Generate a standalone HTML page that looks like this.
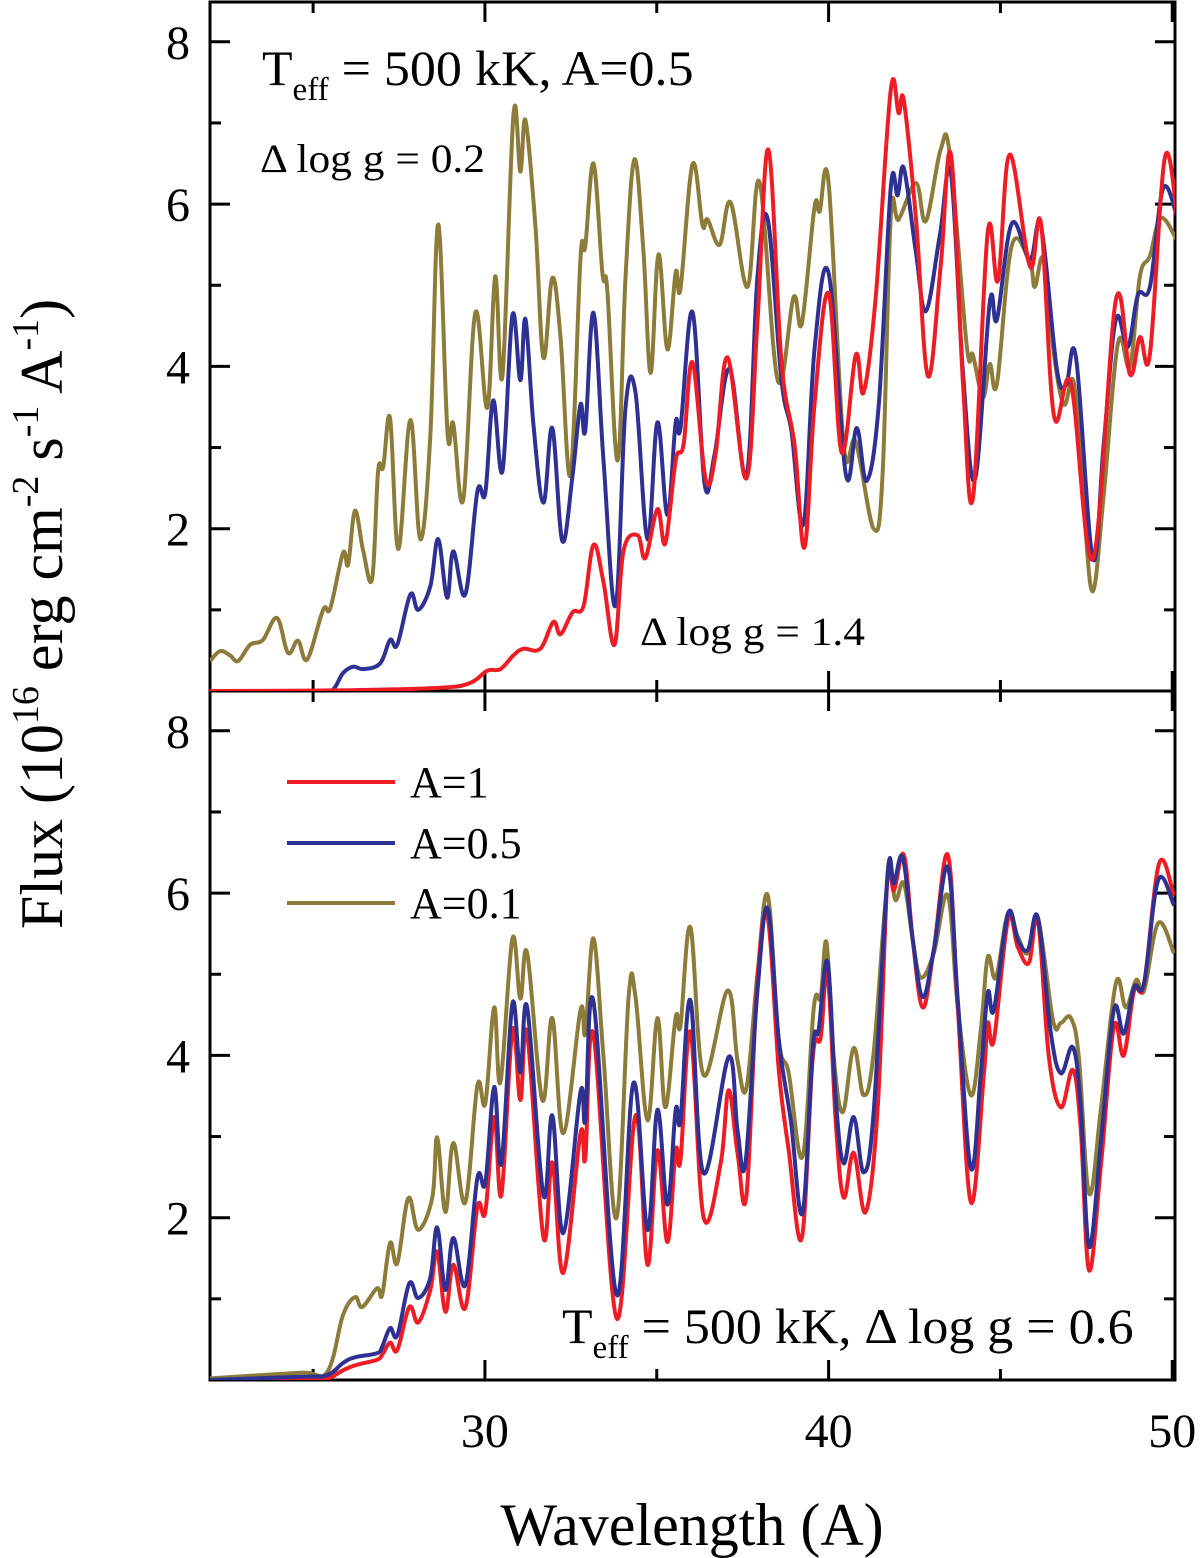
<!DOCTYPE html>
<html><head><meta charset="utf-8"><style>
html,body{margin:0;padding:0;background:#fff;}
svg{display:block;font-family:"Liberation Serif",serif;}
</style></head><body>
<svg id="chart" width="1200" height="1558" viewBox="0 0 1200 1558" xmlns="http://www.w3.org/2000/svg">
<defs>
<clipPath id="clipTop"><rect x="210" y="2" width="965" height="689"/></clipPath>
<clipPath id="clipBot"><rect x="210" y="691" width="965" height="689"/></clipPath>
</defs>
<g id="axes"></g>
<g id="series"></g>
<text x="262" y="85" font-size="50">T<tspan font-size="33" dy="15">eff</tspan><tspan dy="-15" textLength="365" lengthAdjust="spacingAndGlyphs"> = 500 kK, A=0.5</tspan></text>
<text x="260" y="172" font-size="40" textLength="225" lengthAdjust="spacingAndGlyphs">Δ log g = 0.2</text>
<text x="640" y="645" font-size="40" textLength="225" lengthAdjust="spacingAndGlyphs">Δ log g = 1.4</text>
<text x="562" y="1343" font-size="50">T<tspan font-size="33" dy="15">eff</tspan><tspan dy="-15" textLength="505" lengthAdjust="spacingAndGlyphs"> = 500 kK, Δ log g = 0.6</tspan></text>
<g>
<line x1="287" y1="782" x2="395" y2="782" stroke="#ee1c25" stroke-width="4"/>
<text x="410" y="797" font-size="44">A=1</text>
<line x1="287" y1="843" x2="395" y2="843" stroke="#2e3192" stroke-width="4"/>
<text x="410" y="858" font-size="44">A=0.5</text>
<line x1="287" y1="903" x2="395" y2="903" stroke="#8d7b3a" stroke-width="4"/>
<text x="410" y="918" font-size="44">A=0.1</text>
</g>
<text x="692" y="1545" font-size="60" text-anchor="middle">Wavelength (A)</text>
<text transform="translate(62,614) rotate(-90)" font-size="60" text-anchor="middle">Flux (10<tspan font-size="38" dy="-24">16</tspan><tspan dy="24"> erg cm</tspan><tspan font-size="38" dy="-24">-2</tspan><tspan dy="24"> s</tspan><tspan font-size="38" dy="-24">-1</tspan><tspan dy="24"> A</tspan><tspan font-size="38" dy="-24">-1</tspan><tspan dy="24">)</tspan></text>
</svg>
<script>
// ---- data ----
const xTicks=[30,40,50];
const xMinorTicks=[25,35,45];
const yTicks=[2,4,6,8];
const yMinorTicks=[1,3,5,7];
// top panel (A=0.5, different dlogg) - red: dlogg=1.4 ... gold: dlogg=0.2
const topRedWl=[22,26.08,28.70,29.57,30.07,30.45,30.83,31.12,31.61,31.99,32.20,32.55,32.87,33.16,33.45,33.77,34.03,34.44,34.67,35.02,35.25,35.55,35.78,36.04,36.42,36.71,37.06,37.61,37.93,38.25,38.63,39.01,39.30,39.59,40.00,40.38,40.79,41.02,41.37,41.81,42.04,42.19,42.54,42.89,43.26,43.56,43.91,44.20,44.63,44.93,45.27,45.86,46.18,46.56,47.05,47.69,48.36,48.77,49.06,49.35,49.79,50.17];
const topRedFlux=[0,0.01,0.04,0.10,0.25,0.27,0.44,0.52,0.52,0.85,0.70,0.97,1.05,1.80,1.34,0.57,1.72,1.92,1.64,2.24,1.82,2.84,3.04,4.05,2.61,2.91,4.11,2.62,4.56,6.67,4.05,3.03,1.77,3.53,4.90,2.94,4.14,3.68,4.85,7.41,7.12,7.27,5.83,3.88,5.23,6.61,3.79,2.38,5.65,5.06,6.61,5.23,5.76,3.39,3.79,1.63,4.82,3.90,4.36,4.15,6.58,5.74];
const topBlueWl=[22,25.20,25.58,25.87,26.17,26.46,26.95,27.24,27.45,27.83,28.06,28.41,28.64,28.90,29.08,29.43,29.78,30.01,30.24,30.51,30.80,31.03,31.18,31.41,31.70,31.96,32.25,32.55,32.78,32.92,33.16,33.45,33.80,34.09,34.38,34.73,35.02,35.31,35.55,35.69,36.04,36.39,36.68,37.12,37.61,37.93,38.23,38.63,38.92,39.27,39.59,40.00,40.50,40.82,41.11,41.46,41.81,42.01,42.19,42.54,42.83,43.24,43.56,43.91,44.26,44.69,44.90,45.33,45.86,46.18,46.64,46.91,47.20,47.69,48.01,48.36,48.71,49.00,49.35,49.73,50.14];
const topBlueFlux=[0,0,0.02,0.22,0.30,0.27,0.34,0.63,0.57,1.19,1.00,1.29,1.87,1.15,1.72,1.19,2.46,2.44,3.58,2.71,4.63,3.83,4.58,3.29,2.32,3.24,1.85,2.66,3.53,3.21,4.66,2.84,1.05,3.49,3.68,1.87,3.31,2.17,3.31,3.24,4.67,2.56,2.91,3.97,2.65,5.11,5.81,3.83,3.20,2.06,4.21,5.15,2.67,3.24,2.59,3.53,6.21,6.11,6.44,5.41,4.68,5.62,6.38,3.92,2.61,4.79,4.58,5.76,5.32,5.73,3.97,3.77,4.11,1.63,3.07,4.58,4.24,4.88,4.98,6.19,5.85];
const topGoldWl=[22.00,22.29,22.58,22.82,23.17,23.54,23.95,24.27,24.56,24.83,25.29,25.50,25.87,26.02,26.22,26.46,26.72,26.89,27.04,27.24,27.48,27.83,28.12,28.41,28.64,28.91,29.08,29.37,29.72,30.07,30.30,30.51,30.83,31.03,31.18,31.47,31.70,31.96,32.20,32.49,32.78,32.92,33.16,33.42,33.56,33.86,34.09,34.35,34.61,34.82,35.05,35.31,35.55,35.69,36.04,36.33,36.48,36.83,37.15,37.64,37.99,38.52,38.98,39.22,39.59,39.74,40.00,40.44,40.79,41.31,41.57,41.81,42.04,42.54,42.83,43.26,43.53,44.02,44.20,44.49,44.69,44.90,45.33,45.86,46.00,46.26,46.56,46.85,47.14,47.43,47.69,48.01,48.42,48.77,49.06,49.35,49.67,50.14];
const topGoldFlux=[0.37,0.49,0.44,0.37,0.57,0.63,0.90,0.47,0.62,0.39,1.00,1.02,1.70,1.56,2.22,1.72,1.39,2.71,2.76,3.36,1.75,3.34,1.87,3.14,5.75,3.19,3.29,2.36,4.66,3.49,5.11,3.89,7.11,6.40,7.03,5.73,4.11,5.09,4.36,2.66,5.33,5.48,6.50,5.14,4.94,2.84,5.09,6.55,5.43,3.92,5.38,4.21,5.16,4.96,6.49,5.74,5.81,5.50,6.02,4.98,6.27,3.83,4.85,4.53,5.96,5.91,6.26,3.03,3.07,2.00,2.65,5.85,5.81,6.26,5.79,6.67,6.61,4.26,4.14,3.62,4.03,3.79,5.49,5.27,4.98,5.32,4.14,3.53,3.79,2.23,1.23,2.44,4.29,4.00,5.11,5.36,5.83,5.55];
// bottom panel (dlogg=0.6): A=1 red, A=0.5 blue, A=0.1 gold
const botRedWl=[22,24.62,25.41,25.87,26.22,26.86,27.01,27.24,27.45,27.80,28.06,28.41,28.61,28.85,29.08,29.43,29.78,30.01,30.27,30.48,30.80,31.03,31.23,31.70,31.96,32.28,32.78,32.92,33.16,33.83,34.38,34.73,35.02,35.31,35.55,35.69,35.98,36.36,36.86,37.09,37.35,37.61,37.93,38.23,38.55,38.84,39.22,39.54,39.77,39.97,40.21,40.44,40.73,41.08,41.43,41.72,41.90,42.19,42.45,42.74,43.06,43.47,43.76,44.14,44.52,44.63,44.81,45.22,45.51,45.83,46.09,46.41,46.76,47.11,47.34,47.58,47.93,48.30,48.59,48.89,49.18,49.62,50.05];
const botRedFlux=[0,0.01,0.02,0.12,0.18,0.25,0.31,0.46,0.37,0.90,0.71,1.11,1.58,0.84,1.42,0.89,2.13,2.07,3.24,2.28,4.31,3.45,4.27,1.76,2.68,1.32,3.04,2.73,4.25,0.76,3.26,1.42,2.83,1.70,2.83,2.71,4.29,2.01,2.67,3.57,2.80,2.28,4.93,5.69,3.82,2.83,1.75,3.98,4.22,5.01,3.17,2.25,2.80,2.07,3.36,6.24,6.03,6.47,5.42,4.59,5.30,6.47,4.59,2.19,3.78,4.40,4.19,5.67,5.33,5.14,5.67,3.98,3.36,3.82,3.08,1.35,2.67,4.35,4.00,4.80,4.89,6.37,5.97];
const botBlueWl=[22,24.62,25.41,25.87,26.22,26.86,27.01,27.24,27.45,27.80,28.06,28.41,28.61,28.85,29.08,29.43,29.78,30.01,30.27,30.48,30.80,31.03,31.23,31.70,31.96,32.28,32.78,32.92,33.16,33.83,34.32,34.73,35.02,35.31,35.55,35.69,35.98,36.36,37.09,37.35,37.58,37.93,38.23,38.55,38.90,39.24,39.54,39.71,39.97,40.21,40.44,40.73,41.02,41.31,41.72,41.90,42.16,42.45,42.74,43.06,43.47,43.76,44.14,44.43,44.63,44.81,45.22,45.51,45.80,46.09,46.47,46.76,47.11,47.34,47.58,47.93,48.30,48.59,48.89,49.18,49.59,50.05];
const botBlueFlux=[0,0.04,0.06,0.21,0.28,0.33,0.41,0.64,0.55,1.19,1.01,1.26,1.88,1.11,1.75,1.17,2.49,2.43,3.61,2.67,4.64,3.79,4.59,2.28,3.26,1.81,3.55,3.20,4.66,1.05,3.66,1.85,3.33,2.16,3.33,3.20,4.68,2.55,3.98,3.08,2.67,4.80,5.81,4.19,3.20,2.06,4.10,4.31,5.15,3.45,2.67,3.24,2.56,3.29,6.24,6.12,6.44,5.42,4.72,5.30,6.32,4.68,2.61,3.78,4.77,4.56,5.75,5.42,5.30,5.70,4.27,3.78,4.10,3.36,1.64,2.96,4.56,4.27,4.84,4.89,6.16,5.85];
const botGoldWl=[22,24.62,25.41,25.87,26.22,26.43,26.86,27.01,27.24,27.45,27.77,28.06,28.47,28.61,28.85,29.08,29.43,29.78,30.01,30.27,30.45,30.80,31.03,31.23,31.67,31.96,32.28,32.78,32.92,33.16,33.45,33.83,34.18,34.38,34.73,35.02,35.25,35.55,35.69,35.98,36.36,37.06,37.35,37.61,37.93,38.23,38.55,38.84,39.24,39.57,39.77,39.94,40.15,40.41,40.73,41.02,41.31,41.72,41.95,42.19,42.45,42.68,43.06,43.47,43.76,44.14,44.43,44.63,44.87,45.22,45.51,45.80,46.09,46.53,46.76,47.05,47.28,47.58,47.93,48.36,48.65,48.95,49.18,49.59,50.05];
const botGoldFlux=[0.02,0.09,0.10,0.80,1.02,0.90,1.13,1.05,1.69,1.44,2.24,1.85,2.25,2.99,2.07,2.92,2.19,3.63,3.41,4.59,3.67,5.44,4.70,5.26,3.45,4.46,3.04,4.56,4.27,5.44,3.98,2.00,4.72,4.72,3.20,4.46,3.36,4.47,4.37,5.58,3.76,4.80,3.94,3.60,5.01,5.97,4.19,3.78,2.75,4.59,4.72,5.39,3.98,3.30,4.09,3.51,4.03,6.16,5.91,6.12,5.42,4.96,5.26,5.97,4.59,3.51,4.31,5.21,4.96,5.75,5.46,5.26,5.69,4.43,4.40,4.46,3.98,2.30,3.36,4.89,4.59,4.93,4.80,5.63,5.26];

// ---- scales ----
const X0=210, X1=1175, XMIN=22, XMAX=50.08;
function xs(v){return X0+(v-XMIN)*(X1-X0)/(XMAX-XMIN);}
const PPU=81.15;
function ysTop(v){return 691-v*PPU;}
function ysBot(v){return 1380-v*PPU;}
const NS='http://www.w3.org/2000/svg';
const axes=document.getElementById('axes');
const seriesG=document.getElementById('series');
function mk(tag,attrs,parent){const e=document.createElementNS(NS,tag);for(const k in attrs)e.setAttribute(k,attrs[k]);parent.appendChild(e);return e;}

function smoothPath(wl,fl,ys){
  const p=wl.map((w,i)=>[xs(w),ys(fl[i])]);
  let d='M'+p[0][0].toFixed(1)+','+p[0][1].toFixed(1);
  for(let i=0;i<p.length-1;i++){
    const p0=p[i-1]||p[i],p1=p[i],p2=p[i+1],p3=p[i+2]||p2;
    const t=0.18;
    const c1=[p1[0]+(p2[0]-p0[0])*t,p1[1]+(p2[1]-p0[1])*t];
    const c2=[p2[0]-(p3[0]-p1[0])*t,p2[1]-(p3[1]-p1[1])*t];
    d+=' C'+c1[0].toFixed(1)+','+c1[1].toFixed(1)+' '+c2[0].toFixed(1)+','+c2[1].toFixed(1)+' '+p2[0].toFixed(1)+','+p2[1].toFixed(1);
  }
  return d;
}

[['top',ysTop,2,691],['bottom',ysBot,691,1380]].forEach(([nm,ys,yt,yb])=>{
  const r=mk('rect',{x:X0,y:yt,width:X1-X0,height:yb-yt,fill:'none',stroke:'#000','stroke-width':3},axes);
  
  
  yTicks.forEach(v=>{
    const y=ys(v);
    const l=mk('line',{x1:X0,y1:y,x2:X0+20,y2:y,stroke:'#000','stroke-width':3},axes);
    
    
    const l2=mk('line',{x1:X1-20,y1:y,x2:X1,y2:y,stroke:'#000','stroke-width':3},axes);
    
    
    const t=mk('text',{x:190,y:y+17,'font-size':48,'text-anchor':'end'},axes);
    t.textContent=v;
    
    
  });
  yMinorTicks.forEach(v=>{
    const y=ys(v);
    const l=mk('line',{x1:X0,y1:y,x2:X0+11,y2:y,stroke:'#000','stroke-width':3},axes);
    
    
    const l2=mk('line',{x1:X1-11,y1:y,x2:X1,y2:y,stroke:'#000','stroke-width':3},axes);
    
    
  });
  xTicks.forEach(v=>{
    const x=xs(v);
    const l=mk('line',{x1:x,y1:yb,x2:x,y2:yb-20,stroke:'#000','stroke-width':3},axes);
    
    
    const l2=mk('line',{x1:x,y1:yt,x2:x,y2:yt+20,stroke:'#000','stroke-width':3},axes);
    
    
  });
  xMinorTicks.forEach(v=>{
    const x=xs(v);
    const l=mk('line',{x1:x,y1:yb,x2:x,y2:yb-11,stroke:'#000','stroke-width':3},axes);
    
    
    const l2=mk('line',{x1:x,y1:yt,x2:x,y2:yt+11,stroke:'#000','stroke-width':3},axes);
    
    
  });
});
xTicks.forEach(v=>{
  const t=mk('text',{x:xs(v),y:1447,'font-size':48,'text-anchor':'middle'},axes);
  t.textContent=v;
  
  
});

const defs=[
 ['top-series-dlogg-0.2',topGoldWl,topGoldFlux,ysTop,'#8d7b3a','clipTop'],
 ['top-series-dlogg-mid',topBlueWl,topBlueFlux,ysTop,'#2e3192','clipTop'],
 ['top-series-dlogg-1.4',topRedWl,topRedFlux,ysTop,'#ee1c25','clipTop'],
 ['bottom-series-a0.1',botGoldWl,botGoldFlux,ysBot,'#8d7b3a','clipBot'],
 ['bottom-series-a1',botRedWl,botRedFlux,ysBot,'#ee1c25','clipBot'],
 ['bottom-series-a0.5',botBlueWl,botBlueFlux,ysBot,'#2e3192','clipBot']
];
defs.forEach(([nm,wl,fl,ys,col,clip])=>{
  const p=mk('path',{d:smoothPath(wl,fl,ys),fill:'none',stroke:col,'stroke-width':4,'stroke-linejoin':'round','clip-path':'url(#'+clip+')'},seriesG);
  
  
});
</script>
</body></html>
